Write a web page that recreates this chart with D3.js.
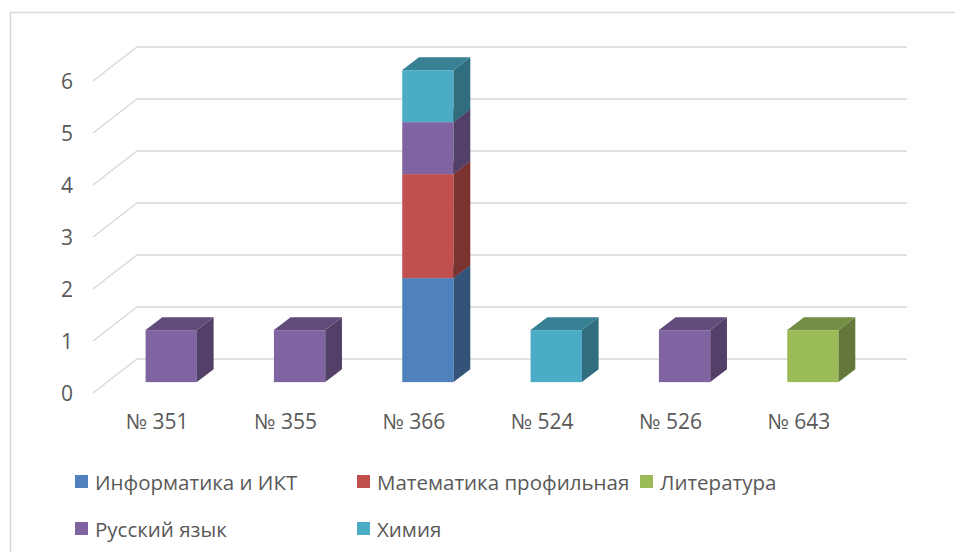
<!DOCTYPE html>
<html>
<head>
<meta charset="utf-8">
<script src="https://cdn.jsdelivr.net/npm/d3@7"></script>
<style>
  body { margin: 0; background: #fff; }
  svg { display: block; }
</style>
</head>
<body>
<div id="chart"></div>
<script>
var categories = ['№ 351', '№ 355', '№ 366', '№ 524', '№ 526', '№ 643'];
var seriesNames = ['Информатика и ИКТ', 'Математика профильная', 'Литература', 'Русский язык', 'Химия'];
var informatika = [0, 0, 2, 0, 0, 0];
var matematika = [0, 0, 2, 0, 0, 0];
var literatura = [0, 0, 0, 0, 0, 1];
var russkiy = [1, 1, 1, 0, 1, 0];
var khimiya = [0, 0, 1, 1, 0, 0];
var yTicks = [0, 1, 2, 3, 4, 5, 6];
var colors = ['#4F81BD', '#C0504D', '#9BBB59', '#8064A2', '#4BACC6'];

var W = 955, H = 552;
var font = '"Open Sans", sans-serif';
var fsAxis = 21, fsLegend = 20.5;
var depth = { dx: 44, dy: -34 };    // floor depth
var barT0 = 0.32, barT1 = 0.70;       // bar position within depth

var series = [informatika, matematika, literatura, russkiy, khimiya];
var table = categories.map(function (c, i) {
  var row = { cat: c };
  seriesNames.forEach(function (s, j) { row[s] = series[j][i]; });
  return row;
});
var stacked = d3.stack().keys(seriesNames)(table);

var svg = d3.select('#chart').append('svg')
  .attr('width', W)
  .attr('height', H);

svg.append('rect')
  .attr('x', 10.5).attr('y', 12.5)
  .attr('width', 960).attr('height', 560)
  .attr('fill', 'none')
  .attr('stroke', '#d9d9d9')
  .attr('stroke-width', 1.5);

var xScale = d3.scaleBand().domain(categories).range([93, 863])
  .paddingInner(0.6).paddingOuter(0.3);
var yScale = d3.scaleLinear().domain([0, 6]).range([393, 81]);

// gridlines: diagonal on side wall + back wall line
var grid = svg.append('g').attr('class', 'grid')
  .attr('stroke', '#d9d9d9').attr('stroke-width', 1.5).attr('fill', 'none');
yTicks.forEach(function (v) {
  var y = yScale(v);
  grid.append('path')
    .attr('d', 'M93,' + y + 'L' + (93 + depth.dx) + ',' + (y + depth.dy) + 'L907,' + (y + depth.dy));
});

// y axis labels
var yAxis = d3.axisLeft(yScale).tickValues(yTicks).tickFormat(d3.format('d'))
  .tickSize(0).tickPadding(0);
var yg = svg.append('g')
  .attr('transform', 'translate(73,1)')
  .call(yAxis);
yg.select('.domain').remove();
yg.selectAll('text')
  .attr('font-size', fsAxis).attr('font-family', font).attr('fill', '#595959');

// x axis labels
var xAxis = d3.axisBottom(xScale).tickSize(0).tickPadding(0);
var xg = svg.append('g')
  .attr('transform', 'translate(0,414)')
  .call(xAxis);
xg.select('.domain').remove();
xg.selectAll('text')
  .attr('font-size', fsAxis).attr('font-family', font).attr('fill', '#595959');

function shade(c, k) {
  var r = d3.rgb(c);
  return d3.rgb(r.r * k, r.g * k, r.b * k).formatHex();
}

// 3D bars
var bw = xScale.bandwidth();
var ox = depth.dx * barT0, oy = depth.dy * barT0;
var bdx = depth.dx * (barT1 - barT0), bdy = depth.dy * (barT1 - barT0);
var bars = svg.append('g').attr('class', 'bars');
categories.forEach(function (c, i) {
  stacked.forEach(function (layer, j) {
    var d = layer[i];
    if (d[1] - d[0] <= 0) return;
    var x0 = xScale(c) + ox, x1 = x0 + bw;
    var yb = yScale(d[0]) + oy, yt = yScale(d[1]) + oy;
    var g = bars.append('g');
    g.append('rect')
      .attr('x', x0).attr('y', yt).attr('width', bw).attr('height', yb - yt)
      .attr('fill', colors[j]);
    g.append('path')
      .attr('d', 'M' + x1 + ',' + yb + 'L' + x1 + ',' + yt + 'L' + (x1 + bdx) + ',' + (yt + bdy) +
        'L' + (x1 + bdx) + ',' + (yb + bdy) + 'Z')
      .attr('fill', shade(colors[j], 0.64));
    g.append('path')
      .attr('d', 'M' + x0 + ',' + yt + 'L' + x1 + ',' + yt + 'L' + (x1 + bdx) + ',' + (yt + bdy) +
        'L' + (x0 + bdx) + ',' + (yt + bdy) + 'Z')
      .attr('fill', shade(colors[j], 0.75));
  });
});

// legend
var legendPos = [[75, 475], [357, 475], [640, 475], [75, 522], [357, 522]];
var legend = svg.append('g').attr('class', 'legend');
seriesNames.forEach(function (s, j) {
  var p = legendPos[j];
  legend.append('rect')
    .attr('x', p[0]).attr('y', p[1]).attr('width', 13).attr('height', 13)
    .attr('fill', colors[j]);
  legend.append('text')
    .attr('x', p[0] + 20).attr('y', p[1] + 15)
    .attr('font-size', fsLegend).attr('font-family', font).attr('fill', '#595959')
    .text(s);
});
</script>
</body>
</html>
